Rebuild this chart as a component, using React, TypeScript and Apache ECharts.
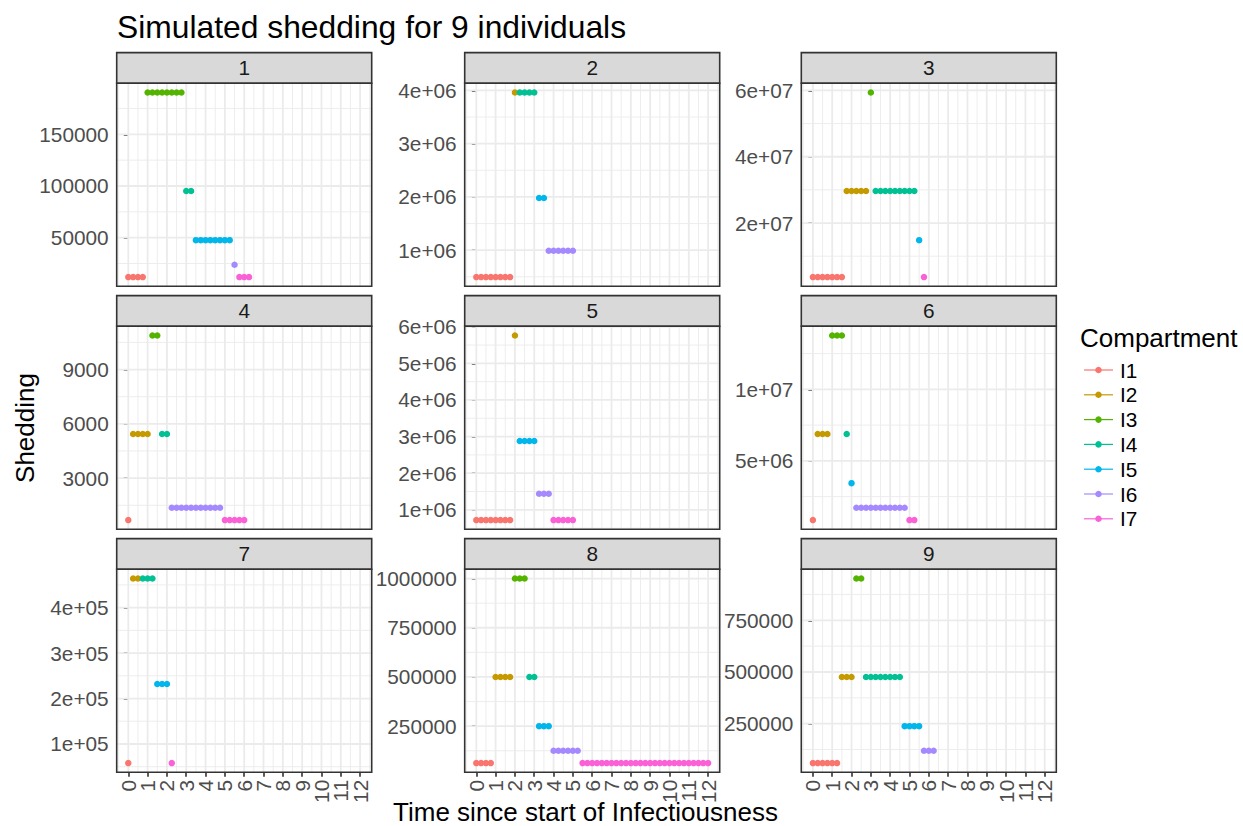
import React, { useEffect, useRef } from "react";
import * as echarts from "echarts";

const FONT = '"Liberation Sans", Arial, Helvetica, sans-serif';

// Compartments and their colours
const compartments = ["I1", "I2", "I3", "I4", "I5", "I6", "I7"];
const compartmentColors = ["#F8766D", "#C49A00", "#53B400", "#00C094", "#00B6EB", "#A58AFF", "#FB61D7"];
const individuals = ["1", "2", "3", "4", "5", "6", "7", "8", "9"];

// Times (days since start of infectiousness) spent in each compartment I1..I7, per individual
const times1 = [[0, 0.25, 0.5, 0.75], [], [1, 1.25, 1.5, 1.75, 2, 2.25, 2.5, 2.75], [3, 3.25], [3.5, 3.75, 4, 4.25, 4.5, 4.75, 5, 5.25], [5.5], [5.75, 6, 6.25]];
const times2 = [[0, 0.25, 0.5, 0.75, 1, 1.25, 1.5, 1.75], [2], [], [2.25, 2.5, 2.75, 3], [3.25, 3.5], [3.75, 4, 4.25, 4.5, 4.75, 5], []];
const times3 = [[0, 0.25, 0.5, 0.75, 1, 1.25, 1.5], [1.75, 2, 2.25, 2.5, 2.75], [3], [3.25, 3.5, 3.75, 4, 4.25, 4.5, 4.75, 5, 5.25], [5.5], [], [5.75]];
const times4 = [[0], [0.25, 0.5, 0.75, 1], [1.25, 1.5], [1.75, 2], [], [2.25, 2.5, 2.75, 3, 3.25, 3.5, 3.75, 4, 4.25, 4.5, 4.75], [5, 5.25, 5.5, 5.75, 6]];
const times5 = [[0, 0.25, 0.5, 0.75, 1, 1.25, 1.5, 1.75], [2], [], [], [2.25, 2.5, 2.75, 3], [3.25, 3.5, 3.75], [4, 4.25, 4.5, 4.75, 5]];
const times6 = [[0], [0.25, 0.5, 0.75], [1, 1.25, 1.5], [1.75], [2], [2.25, 2.5, 2.75, 3, 3.25, 3.5, 3.75, 4, 4.25, 4.5, 4.75], [5, 5.25]];
const times7 = [[0], [0.25, 0.5], [], [0.75, 1, 1.25], [1.5, 1.75, 2], [], [2.25]];
const times8 = [[0, 0.25, 0.5, 0.75], [1, 1.25, 1.5, 1.75], [2, 2.25, 2.5], [2.75, 3], [3.25, 3.5, 3.75], [4, 4.25, 4.5, 4.75, 5, 5.25],
  [5.5, 5.75, 6, 6.25, 6.5, 6.75, 7, 7.25, 7.5, 7.75, 8, 8.25, 8.5, 8.75, 9, 9.25, 9.5, 9.75, 10, 10.25, 10.5, 10.75, 11, 11.25, 11.5, 11.75, 12]];
const times9 = [[0, 0.25, 0.5, 0.75, 1, 1.25], [1.5, 1.75, 2], [2.25, 2.5], [2.75, 3, 3.25, 3.5, 3.75, 4, 4.25, 4.5], [4.75, 5, 5.25, 5.5], [5.75, 6, 6.25], []];

// Shedding level in each compartment I1..I7, per individual
const shedding1 = [11900, null, 190400, 95200, 47600, 23800, 11900];
const shedding2 = [495000, 3960000, null, 3960000, 1980000, 990000, null];
const shedding3 = [3710000, 29680000, 59360000, 29680000, 14840000, null, 3710000];
const shedding4 = [680, 5440, 10880, 5440, null, 1360, 680];
const shedding5 = [720000, 5760000, null, null, 2880000, 1440000, 720000];
const shedding6 = [860000, 6880000, 13760000, 6880000, 3440000, 1720000, 860000];
const shedding7 = [58000, 464000, null, 464000, 232000, null, 58000];
const shedding8 = [62500, 500000, 1000000, 500000, 250000, 125000, 62500];
const shedding9 = [59500, 476000, 952000, 476000, 238000, 119000, null];

// Shared x axis breaks
const xTicks = [0, 1, 2, 3, 4, 5, 6, 7, 8, 9, 10, 11, 12];
const xMinorTicks = [-0.5, 0.5, 1.5, 2.5, 3.5, 4.5, 5.5, 6.5, 7.5, 8.5, 9.5, 10.5, 11.5, 12.5];

// Free y scales: breaks, labels and minor breaks per panel
const yTicks1 = [50000, 100000, 150000];
const yLabels1 = ["50000", "100000", "150000"];
const yMinor1 = [25000, 75000, 125000, 175000];
const yTicks2 = [1000000, 2000000, 3000000, 4000000];
const yLabels2 = ["1e+06", "2e+06", "3e+06", "4e+06"];
const yMinor2 = [500000, 1500000, 2500000, 3500000];
const yTicks3 = [20000000, 40000000, 60000000];
const yLabels3 = ["2e+07", "4e+07", "6e+07"];
const yMinor3 = [10000000, 30000000, 50000000];
const yTicks4 = [3000, 6000, 9000];
const yLabels4 = ["3000", "6000", "9000"];
const yMinor4 = [1500, 4500, 7500, 10500];
const yTicks5 = [1000000, 2000000, 3000000, 4000000, 5000000, 6000000];
const yLabels5 = ["1e+06", "2e+06", "3e+06", "4e+06", "5e+06", "6e+06"];
const yMinor5 = [500000, 1500000, 2500000, 3500000, 4500000, 5500000];
const yTicks6 = [5000000, 10000000];
const yLabels6 = ["5e+06", "1e+07"];
const yMinor6 = [2500000, 7500000, 12500000];
const yTicks7 = [100000, 200000, 300000, 400000];
const yLabels7 = ["1e+05", "2e+05", "3e+05", "4e+05"];
const yMinor7 = [50000, 150000, 250000, 350000, 450000];
const yTicks8 = [250000, 500000, 750000, 1000000];
const yLabels8 = ["250000", "500000", "750000", "1000000"];
const yMinor8 = [125000, 375000, 625000, 875000];
const yTicks9 = [250000, 500000, 750000];
const yLabels9 = ["250000", "500000", "750000"];
const yMinor9 = [125000, 375000, 625000, 875000];

const panelTimes = [times1, times2, times3, times4, times5, times6, times7, times8, times9];
const panelShedding = [shedding1, shedding2, shedding3, shedding4, shedding5, shedding6, shedding7, shedding8, shedding9];
const panelYTicks = [yTicks1, yTicks2, yTicks3, yTicks4, yTicks5, yTicks6, yTicks7, yTicks8, yTicks9];
const panelYLabels = [yLabels1, yLabels2, yLabels3, yLabels4, yLabels5, yLabels6, yLabels7, yLabels8, yLabels9];
const panelYMinor = [yMinor1, yMinor2, yMinor3, yMinor4, yMinor5, yMinor6, yMinor7, yMinor8, yMinor9];

// Facet layout (pixels)
const COL_LEFT = [116.7, 464.7, 801.3];
const ROW_TOP = [83.3, 326.3, 569.3];
const PANEL_W = 255;
const PANEL_H = 203;
const STRIP_H = 30.7;
const X_MIN = -0.6;
const X_MAX = 12.6;

const TICK_COLOR = "#333333";
const LABEL_COLOR = "#4D4D4D";
const GRID_COLOR = "#EBEBEB";
const TICK_FONT = 20.8;

function yRange(i: number): [number, number] {
  const vals: number[] = [];
  panelTimes[i].forEach((ts, k) => {
    if (ts.length && panelShedding[i][k] != null) vals.push(panelShedding[i][k] as number);
  });
  const lo = Math.min(...vals);
  const hi = Math.max(...vals);
  const pad = (hi - lo) * 0.05;
  return [lo - pad, hi + pad];
}

function buildOption() {
  const grid: any[] = [];
  const xAxis: any[] = [];
  const yAxis: any[] = [];
  const series: any[] = [];
  const graphic: any[] = [];

  individuals.forEach((name, i) => {
    const col = i % 3;
    const row = Math.floor(i / 3);
    const bottom = row === 2;
    const left = COL_LEFT[col];
    const top = ROW_TOP[row];
    const [yMin, yMax] = yRange(i);
    const ticks = panelYTicks[i];
    const labels = panelYLabels[i];

    grid.push({ left, top, width: PANEL_W, height: PANEL_H, show: false, containLabel: false, outerBoundsMode: "none" });

    xAxis.push({
      type: "value",
      gridIndex: i,
      min: X_MIN,
      max: X_MAX,
      axisLine: { show: false },
      splitLine: { show: false },
      axisTick: { show: bottom, customValues: xTicks, length: 4.5, lineStyle: { color: TICK_COLOR, width: 1.6 } },
      axisLabel: { show: false },
    });

    yAxis.push({
      type: "value",
      gridIndex: i,
      min: yMin,
      max: yMax,
      axisLine: { show: false },
      splitLine: { show: false },
      axisTick: { show: true, customValues: ticks, length: 4.5, lineStyle: { color: TICK_COLOR, width: 1.6 } },
      axisLabel: {
        customValues: ticks,
        margin: 8,
        fontSize: TICK_FONT,
        color: LABEL_COLOR,
        fontFamily: FONT,
        formatter: (v: number) => {
          const k = ticks.indexOf(v);
          return k >= 0 ? labels[k] : String(v);
        },
      },
    });

    // Background grid lines: [orientation (0 vertical, 1 horizontal), value, major flag]
    const lines: number[][] = [];
    xMinorTicks.forEach((v) => lines.push([0, v, 0]));
    panelYMinor[i].forEach((v) => { if (v > yMin && v < yMax) lines.push([1, v, 0]); });
    xTicks.forEach((v) => lines.push([0, v, 1]));
    ticks.forEach((v) => lines.push([1, v, 1]));

    series.push({
      type: "custom",
      xAxisIndex: i,
      yAxisIndex: i,
      z: 1,
      silent: true,
      data: lines,
      renderItem: (params: any, api: any) => {
        const cs = params.coordSys;
        const kind = api.value(0);
        const v = api.value(1);
        const major = api.value(2);
        const style = { stroke: GRID_COLOR, lineWidth: major ? 1.8 : 0.9 };
        if (kind === 0) {
          const x = api.coord([v, yMin])[0];
          return { type: "line", shape: { x1: x, y1: cs.y, x2: x, y2: cs.y + cs.height }, style };
        }
        const y = api.coord([X_MIN, v])[1];
        return { type: "line", shape: { x1: cs.x, y1: y, x2: cs.x + cs.width, y2: y }, style };
      },
    });

    // Vertical x tick labels under the bottom row of panels
    if (bottom) {
      series.push({
        type: "custom",
        xAxisIndex: i,
        yAxisIndex: i,
        z: 4,
        silent: true,
        clip: false,
        data: xTicks.map((v) => [v, yMin]),
        renderItem: (params: any, api: any) => {
          const cs = params.coordSys;
          const v = api.value(0);
          const x = api.coord([v, yMin])[0];
          return {
            type: "text",
            x,
            y: cs.y + cs.height + 7.5,
            rotation: Math.PI / 2,
            style: {
              text: String(v),
              fontSize: TICK_FONT,
              fontFamily: FONT,
              fill: LABEL_COLOR,
              align: "right",
              verticalAlign: "middle",
            },
          };
        },
      });
    }

    compartments.forEach((comp, k) => {
      const ts = panelTimes[i][k];
      const val = panelShedding[i][k];
      if (!ts.length || val == null) return;
      series.push({
        type: "scatter",
        name: comp,
        xAxisIndex: i,
        yAxisIndex: i,
        z: 3,
        symbol: "circle",
        symbolSize: 6.5,
        itemStyle: { color: compartmentColors[k], opacity: 1 },
        emphasis: { disabled: true },
        silent: true,
        data: ts.map((t) => [t, val]),
      });
    });

    // Facet strip
    graphic.push({
      type: "rect",
      shape: { x: left, y: top - STRIP_H, width: PANEL_W, height: STRIP_H },
      style: { fill: "#D9D9D9", stroke: TICK_COLOR, lineWidth: 1.6 },
      z: 100,
    });
    graphic.push({
      type: "text",
      x: left + PANEL_W / 2,
      y: top - STRIP_H / 2,
      style: {
        text: name,
        fontSize: TICK_FONT,
        fontFamily: FONT,
        fill: "#1A1A1A",
        align: "center",
        verticalAlign: "middle",
        textAlign: "center",
        textVerticalAlign: "middle",
      },
      z: 101,
    });
    // Panel border
    graphic.push({
      type: "rect",
      shape: { x: left, y: top, width: PANEL_W, height: PANEL_H },
      style: { fill: "none", stroke: TICK_COLOR, lineWidth: 1.6 },
      z: 100,
    });
  });

  const textStyle = (text: string, size: number, extra: any = {}) => ({
    text,
    fontSize: size,
    fontFamily: FONT,
    fill: "#000000",
    ...extra,
  });

  // Titles
  graphic.push({
    type: "text",
    x: 117,
    y: 27,
    style: textStyle("Simulated shedding for 9 individuals", 31.8, { align: "left", verticalAlign: "middle", textAlign: "left", textVerticalAlign: "middle" }),
    z: 101,
  });
  graphic.push({
    type: "text",
    x: 585.5,
    y: 812,
    style: textStyle("Time since start of Infectiousness", 26, { align: "center", verticalAlign: "middle", textAlign: "center", textVerticalAlign: "middle" }),
    z: 101,
  });
  graphic.push({
    type: "text",
    x: 25,
    y: 428,
    rotation: Math.PI / 2,
    style: textStyle("Shedding", 26, { align: "center", verticalAlign: "middle", textAlign: "center", textVerticalAlign: "middle" }),
    z: 101,
  });

  // Legend
  graphic.push({
    type: "text",
    x: 1080,
    y: 338,
    style: textStyle("Compartment", 26, { align: "left", verticalAlign: "middle", textAlign: "left", textVerticalAlign: "middle" }),
    z: 101,
  });
  compartments.forEach((comp, k) => {
    const y = 370 + k * 24.8;
    graphic.push({
      type: "line",
      shape: { x1: 1084, y1: y, x2: 1113, y2: y },
      style: { stroke: compartmentColors[k], lineWidth: 1.2 },
      z: 101,
    });
    graphic.push({
      type: "circle",
      shape: { cx: 1098.5, cy: y, r: 3.25 },
      style: { fill: compartmentColors[k] },
      z: 102,
    });
    graphic.push({
      type: "text",
      x: 1120,
      y,
      style: textStyle(comp, TICK_FONT, { align: "left", verticalAlign: "middle", textAlign: "left", textVerticalAlign: "middle" }),
      z: 101,
    });
  });

  return {
    animation: false,
    backgroundColor: "#FFFFFF",
    textStyle: { fontFamily: FONT },
    grid,
    xAxis,
    yAxis,
    series,
    graphic: { elements: graphic },
  };
}

export default function App() {
  const ref = useRef<HTMLDivElement>(null);
  useEffect(() => {
    if (!ref.current) return;
    const chart = echarts.init(ref.current, null, { renderer: "svg" });
    chart.setOption(buildOption() as any);
    return () => chart.dispose();
  }, []);
  return (
    <div
      ref={ref}
      style={{ position: "absolute", left: 0, top: 0, width: 1243, height: 826, background: "#FFFFFF" }}
    />
  );
}
